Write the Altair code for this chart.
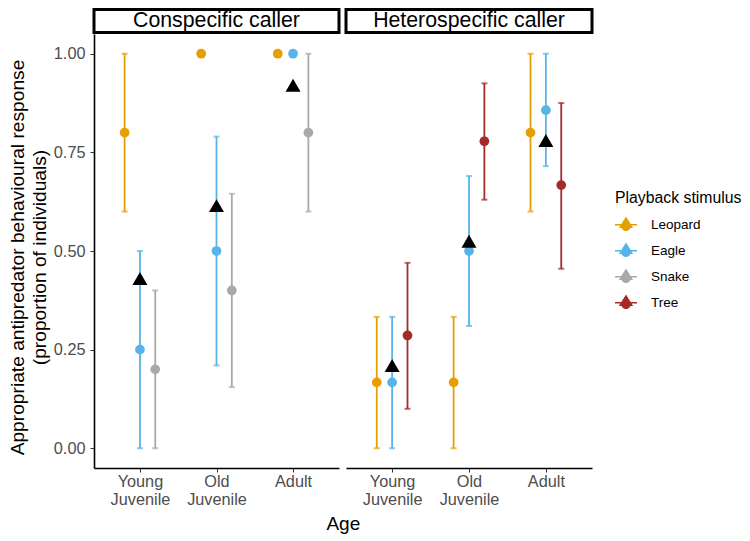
import altair as alt
import pandas as pd

FONT = "Liberation Sans"

# one list per column, rows
panel = ["Conspecific caller"] * 9 + ["Heterospecific caller"] * 9
age = [1, 1, 1, 2, 2, 2, 3, 3, 3] * 2
stimulus = ["Leopard", "Eagle", "Snake"] * 3 + ["Leopard", "Eagle", "Tree"] * 3
proportion = [0.8, 0.25, 0.2, 1.0, 0.5, 0.4, 1.0, 1.0, 0.8,
              0.167, 0.167, 0.286, 0.167, 0.5, 0.778, 0.8, 0.857, 0.667]
lower = [0.6, 0.0, 0.0, None, 0.21, 0.155, None, None, 0.6,
         0.0, 0.0, 0.1, 0.0, 0.31, 0.63, 0.6, 0.715, 0.455]
upper = [1.0, 0.5, 0.4, None, 0.79, 0.645, None, None, 1.0,
         0.333, 0.333, 0.47, 0.333, 0.69, 0.925, 1.0, 1.0, 0.875]

mean_panel = ["Conspecific caller"] * 3 + ["Heterospecific caller"] * 3
mean_age = [1, 2, 3, 1, 2, 3]
mean_value = [0.43, 0.615, 0.92, 0.21, 0.525, 0.78]

stimuli = ["Leopard", "Eagle", "Snake", "Tree"]
colours = ["#E69F00", "#56B4E9", "#A9A9A9", "#A52A2A"]
dodge = {"Leopard": -0.2, "Eagle": 0.0, "Snake": 0.2, "Tree": 0.2}

data = pd.DataFrame({"panel": panel, "age": age, "stimulus": stimulus,
                     "proportion": proportion, "lower": lower, "upper": upper})
data["pos"] = data["age"] + data["stimulus"].map(dodge)
means = pd.DataFrame({"panel": mean_panel, "age": mean_age, "value": mean_value})

# triangle, dot and line together, as the legend keys show them
KEY = ("M-1,-0.07H1V0.07H-1Z M0,-0.75L0.65,0.3H-0.65Z "
       "M-0.42,0.15a0.42,0.42 0 1,1 0.84,0a0.42,0.42 0 1,1 -0.84,0Z")

colour = alt.Color("stimulus:N",
                   scale=alt.Scale(domain=stimuli, range=colours),
                   legend=alt.Legend(title="Playback stimulus", orient="none",
                                     legendX=521, legendY=157,
                                     symbolType=KEY, symbolSize=484,
                                     symbolStrokeWidth=0, symbolOpacity=1,
                                     titleFont=FONT, titleFontSize=15.8, titleFontWeight="normal",
                                     titleColor="black", titlePadding=7,
                                     labelFont=FONT, labelFontSize=13.5, labelColor="black",
                                     labelOffset=14, rowPadding=4, clipHeight=22))

xlabels = ("datum.value == 1 ? ['Young', 'Juvenile'] : "
           "datum.value == 2 ? ['Old', 'Juvenile'] : 'Adult'")


def make_panel(name, width, first):
    rows = data[data["panel"] == name]
    bars = rows.dropna(subset=["lower"])
    xscale = alt.Scale(domain=[0.4, 3.6], nice=False, zero=False)
    yscale = alt.Scale(domain=[-0.05, 1.05], nice=False, zero=False)
    xaxis = alt.Axis(values=[1, 2, 3], labelExpr=xlabels, title=None, grid=False,
                     domainColor="black", domainWidth=1.6, tickColor="#333333", tickSize=4,
                     labelFont=FONT, labelFontSize=16.3, labelColor="#4D4D4D",
                     labelPadding=1, labelLineHeight=18, labelAngle=0)
    if first:
        yaxis = alt.Axis(values=[0, 0.25, 0.5, 0.75, 1], format=".2f", grid=False,
                         title=["Appropriate antipredator behavioural response",
                                "(proportion of individuals)"],
                         titleFont=FONT, titleFontSize=19.2, titleFontWeight="normal",
                         titleColor="black", titlePadding=4, titleLineHeight=22, titleY=223,
                         domainColor="black", domainWidth=1.6, tickColor="#333333", tickSize=4,
                         labelFont=FONT, labelFontSize=16.3, labelColor="#4D4D4D", labelPadding=5)
    else:
        yaxis = None

    x = alt.X("pos:Q", scale=xscale, axis=xaxis)
    y = alt.Y("proportion:Q", scale=yscale, axis=yaxis)

    rules = alt.Chart(bars).mark_rule(strokeWidth=1.8).encode(
        x=x, y=alt.Y("lower:Q", scale=yscale, axis=yaxis), y2="upper:Q", color=colour)
    low = alt.Chart(bars).mark_tick(orient="horizontal", size=6, thickness=2).encode(
        x=x, y=alt.Y("lower:Q", scale=yscale, axis=yaxis), color=colour)
    high = alt.Chart(bars).mark_tick(orient="horizontal", size=6, thickness=2).encode(
        x=x, y=alt.Y("upper:Q", scale=yscale, axis=yaxis), color=colour)
    dots = alt.Chart(rows).mark_circle(size=95, opacity=1).encode(x=x, y=y, color=colour)
    tri = alt.Chart(means[means["panel"] == name]).mark_point(
        shape="triangle-up", filled=True, size=225, color="black", opacity=1
    ).encode(x=alt.X("age:Q", scale=xscale, axis=xaxis),
             y=alt.Y("value:Q", scale=yscale, axis=yaxis))

    strip = alt.Chart(pd.DataFrame({"label": [name]})).mark_rect(
        fill="white", stroke="black", strokeWidth=3
    ).encode(x=alt.value(0), x2=alt.value(width), y=alt.value(-24.5), y2=alt.value(-1.5))
    strip_text = alt.Chart(pd.DataFrame({"label": [name]})).mark_text(
        font=FONT, fontSize=21.3, color="black"
    ).encode(x=alt.value(width / 2), y=alt.value(-13), text="label:N")

    return alt.layer(rules, low, high, dots, tri, strip, strip_text).properties(width=width, height=434)


chart = alt.hconcat(
    make_panel("Conspecific caller", 245, True),
    make_panel("Heterospecific caller", 246, False),
    spacing=3,
).resolve_scale(color="shared").configure_view(stroke=None).properties(
    padding=0, background="white",
    title=alt.TitleParams("Age", orient="bottom", anchor="start", align="center", dx=335,
                          font=FONT, fontSize=19, fontWeight="normal", color="black", offset=8),
)

chart.save("out.html", embed_options={"renderer": "svg", "actions": False})
